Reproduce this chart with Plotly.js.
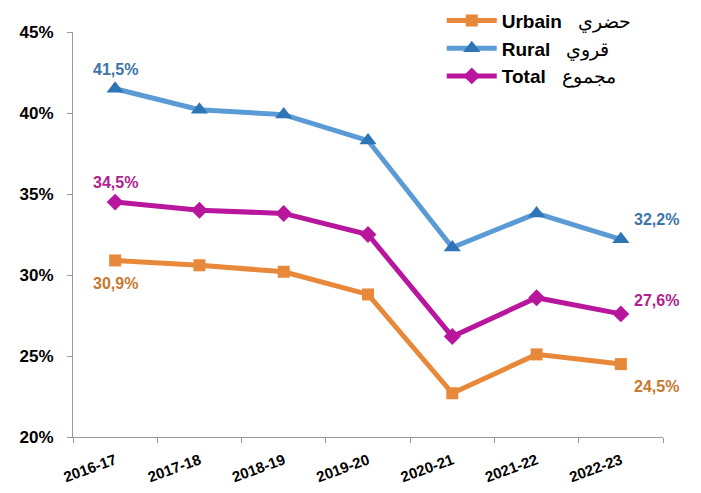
<!DOCTYPE html>
<html><head><meta charset="utf-8">
<script src="https://cdn.plot.ly/plotly-3.0.1.min.js"></script>
<style>body{margin:0;background:#fff}#c{width:701px;height:493px}</style>
</head><body><div id="c"></div>
<script>
const years = ["2016-17","2017-18","2018-19","2019-20","2020-21","2021-22","2022-23"];
const urbain = [30.9, 30.6, 30.2, 28.8, 22.7, 25.1, 24.5];
const rural  = [41.5, 40.2, 39.9, 38.3, 31.7, 33.8, 32.2];
const total  = [34.5, 34.0, 33.8, 32.5, 26.2, 28.6, 27.6];
const names = ["<b>Urbain</b>   حضري", "<b>Rural</b>   قروي", "<b>Total</b>   مجموع"];

const cOr = "#E8883A", cBl = "#5B9BD5", cBlM = "#2E75B6", cMg = "#B8169C";
const lblOr = "#C8782E", lblBl = "#3C74A8", lblMg = "#B0228F";
const F = "Liberation Sans, Arial, sans-serif";

const traces = [
  {x: years, y: urbain, name: names[0], mode: "lines+markers", line: {color: cOr, width: 5},
   marker: {symbol: "square", size: 12, color: cOr}},
  {x: years, y: rural, name: names[1], mode: "lines+markers", line: {color: cBl, width: 5},
   marker: {symbol: "triangle-up", size: 15, color: cBlM}},
  {x: years, y: total, name: names[2], mode: "lines+markers", line: {color: cMg, width: 5},
   marker: {symbol: "diamond", size: 13, color: cMg}}
];

function fmt(v){ return v.toFixed(1).replace(".", ",") + "%"; }
const last = years.length - 1;
const ann = [
  {x: years[0], y: rural[0], text: fmt(rural[0]), color: lblBl, xs: 0, ys: 19},
  {x: years[last], y: rural[last], text: fmt(rural[last]), color: lblBl, xs: 36, ys: 20},
  {x: years[0], y: total[0], text: fmt(total[0]), color: lblMg, xs: 0, ys: 20},
  {x: years[last], y: total[last], text: fmt(total[last]), color: lblMg, xs: 36, ys: 13},
  {x: years[0], y: urbain[0], text: fmt(urbain[0]), color: lblOr, xs: 0, ys: -23},
  {x: years[last], y: urbain[last], text: fmt(urbain[last]), color: lblOr, xs: 36, ys: -22}
].map(a => ({x: a.x, y: a.y, text: "<b>" + a.text + "</b>", showarrow: false, xshift: a.xs, yshift: a.ys,
  font: {family: F, size: 16, color: a.color}}));

const layout = {
  width: 701, height: 493,
  margin: {l: 73, r: 38, t: 32, b: 56, autoexpand: false},
  paper_bgcolor: "#fff", plot_bgcolor: "#fff",
  showlegend: true,
  legend: {x: 0.625, y: 1.075, xanchor: "left", yanchor: "top",
    bgcolor: "rgba(0,0,0,0)", font: {family: F, size: 19, color: "#000"}, tracegroupgap: 0, itemwidth: 50},
  xaxis: {type: "category", showgrid: false, showline: true, linecolor: "#999", linewidth: 1,
    ticks: "outside", tickson: "boundaries", ticklen: 5, tickcolor: "#999", tickangle: -20,
    ticklabelstandoff: 8,
    tickfont: {family: F, size: 15, color: "#000", weight: "bold"}, range: [-0.5, 6.5]},
  yaxis: {range: [20, 45], dtick: 5, ticksuffix: "%", showgrid: false, zeroline: false,
    showline: true, linecolor: "#999", linewidth: 1, ticks: "outside", ticklen: 5, tickcolor: "#999",
    ticklabelstandoff: 10,
    tickfont: {family: F, size: 17, color: "#000", weight: "bold"}},
  annotations: ann
};
Plotly.newPlot("c", traces, layout, {displayModeBar: false, staticPlot: true});
</script></body></html>
